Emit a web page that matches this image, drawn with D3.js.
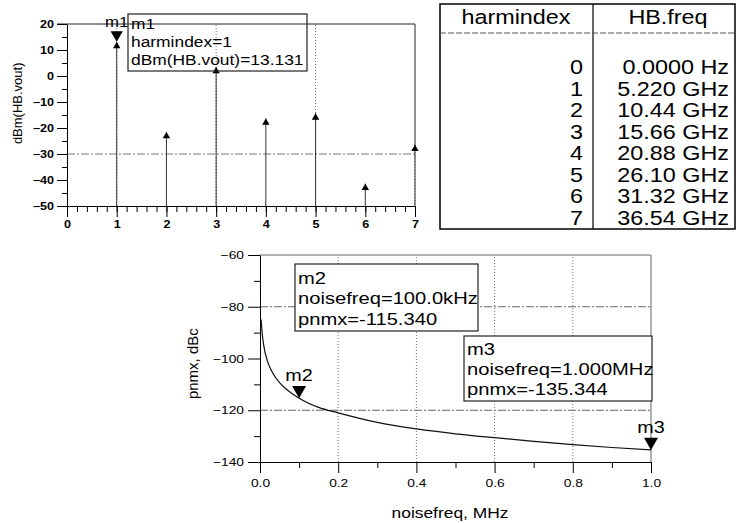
<!DOCTYPE html>
<html lang="en">
<head>
<meta charset="UTF-8">
<title>HB spectrum and phase noise</title>
<script src="https://d3js.org/d3.v7.min.js"></script>
<style>
    body { margin: 0; background: #fff; }
    svg { font-family: Arial, "Liberation Sans", Helvetica, sans-serif; }
    .axis path, .axis line { stroke: #000; }
</style>
</head>
<body>
<svg width="738" height="523"></svg>
<script>
    // harmonic balance spectrum
    const harmIndex = [0, 1, 2, 3, 4, 5, 6, 7];
    const dBmVout = [null, 13.131, -21.5, 3.5, -16.3, -14.3, -41.4, -26.4];
    const hbFreq = ["0.0000 Hz", "5.220 GHz", "10.44 GHz", "15.66 GHz",
                    "20.88 GHz", "26.10 GHz", "31.32 GHz", "36.54 GHz"];

    // phase noise (MHz, dBc)
    const noiseFreq = [0.003, 0.005, 0.01, 0.02, 0.03, 0.05, 0.07, 0.1, 0.15,
                       0.2, 0.3, 0.4, 0.5, 0.6, 0.7, 0.8, 0.9, 1.0];
    const pnmx = [-84.9, -89.3, -95.3, -101.4, -104.9, -109.3, -112.2, -115.34, -118.9,
                  -121.0, -124.7, -127.2, -129.1, -130.6, -132.0, -133.3, -134.4, -135.344];

    const topYTicks = [20, 10, 0, -10, -20, -30, -40, -50];
    const botXTicks = [0, 0.2, 0.4, 0.6, 0.8, 1.0];
    const botYTicks = [-60, -80, -100, -120, -140];

    const SX = 1.2; // the scan is stretched sideways a little
    let svg = d3.select("svg");

    function stext(g, x, y, s, size, anchor) {
        return g.append("text")
            .attr("transform", "translate(" + x + "," + y + ") scale(" + SX + ",1)")
            .attr("text-anchor", anchor || "start")
            .attr("font-size", size)
            .attr("fill", "#000")
            .text(s);
    }

    function downMarker(g, x, tipY, size) {
        let h = Math.sqrt(size / (Math.sqrt(3) * 3));
        g.append("path")
            .attr("d", d3.symbol(d3.symbolTriangle, size)())
            .attr("transform", "translate(" + x + "," + (tipY - 2 * h) + ") rotate(180)")
            .attr("fill", "#000");
    }

    // ---------- top chart ----------
    let x1 = d3.scaleLinear().domain([0, 7]).range([67, 415]);
    let y1 = d3.scaleLinear().domain([-50, 20]).range([206, 24]);
    let g1 = svg.append("g");

    // grid
    g1.selectAll(".vg").data([1, 3, 5]).enter().append("line")
        .attr("x1", d => x1(d)).attr("x2", d => x1(d))
        .attr("y1", y1(-50)).attr("y2", y1(20))
        .attr("stroke", "#666").attr("stroke-dasharray", "1,2");
    g1.append("line")
        .attr("x1", x1(0)).attr("x2", x1(7))
        .attr("y1", y1(-30)).attr("y2", y1(-30))
        .attr("stroke", "#777").attr("stroke-dasharray", "8,2,2,2");
    // frame top / right
    g1.append("line").attr("x1", x1(0) - 10).attr("x2", x1(7))
        .attr("y1", y1(20)).attr("y2", y1(20)).attr("stroke", "#222");
    g1.append("line").attr("x1", x1(7)).attr("x2", x1(7))
        .attr("y1", y1(20)).attr("y2", y1(-27)).attr("stroke", "#222");
    g1.append("line").attr("x1", x1(7)).attr("x2", x1(7))
        .attr("y1", y1(-27)).attr("y2", y1(-50))
        .attr("stroke", "#555").attr("stroke-dasharray", "1,2");

    // minor ticks
    g1.append("g").attr("transform", "translate(0," + y1(-50) + ")")
        .call(d3.axisBottom(x1).tickValues(d3.range(0, 7.01, 0.2)).tickSize(6).tickFormat(""))
        .attr("class", "axis").select(".domain").remove();
    g1.append("g").attr("transform", "translate(" + x1(0) + ",0)")
        .call(d3.axisLeft(y1).tickValues(d3.range(-45, 20, 10)).tickSize(5).tickFormat(""))
        .attr("class", "axis").select(".domain").remove();

    let xa1 = g1.append("g").attr("class", "axis")
        .attr("transform", "translate(0," + y1(-50) + ")")
        .call(d3.axisBottom(x1).tickValues(harmIndex).tickFormat(d3.format("d"))
            .tickSize(11).tickPadding(4).tickSizeOuter(0));
    xa1.selectAll("text").attr("font-size", 10.5).attr("font-weight", "bold")
        .attr("transform", "scale(" + SX + ",1)");
    let ya1 = g1.append("g").attr("class", "axis")
        .attr("transform", "translate(" + x1(0) + ",0)")
        .call(d3.axisLeft(y1).tickValues(topYTicks).tickFormat(d3.format("d"))
            .tickSize(10).tickSizeOuter(0));
    ya1.selectAll("text").attr("font-size", 10.5).attr("font-weight", "bold")
        .attr("x", 0).attr("transform", "translate(-13,0) scale(" + SX + ",1)");

    g1.append("text")
        .attr("transform", "translate(17," + y1(-10.5) + ") rotate(-90)")
        .attr("text-anchor", "middle").attr("dy", "0.35em")
        .attr("font-size", 13).text("dBm(HB.vout)");

    // stems
    let pts = harmIndex.map((h, i) => ({ h: h, v: dBmVout[i] })).filter(d => d.v !== null);
    g1.selectAll(".stem").data(pts).enter().append("line")
        .attr("x1", d => x1(d.h)).attr("x2", d => x1(d.h))
        .attr("y1", y1(-50)).attr("y2", d => y1(d.v))
        .attr("stroke", "#333").attr("stroke-width", 1);
    let th = Math.sqrt(24 / (Math.sqrt(3) * 3));
    g1.selectAll(".tri").data(pts).enter().append("path")
        .attr("d", d3.symbol(d3.symbolTriangle, 24)())
        .attr("transform", d => "translate(" + x1(d.h) + "," + (y1(d.v) + 2 * th) + ")")
        .attr("fill", "#000");

    // marker m1
    downMarker(g1, x1(1), y1(13.131), 65);
    stext(g1, x1(1), 27, "m1", 14, "middle");
    g1.append("rect").attr("x", 128).attr("y", 14).attr("width", 179).attr("height", 57)
        .attr("fill", "none").attr("stroke", "#222").attr("stroke-width", 1.2);
    stext(g1, 131, 29, "m1", 14.5);
    stext(g1, 131, 47, "harmindex=1", 14.5);
    stext(g1, 131, 65, "dBm(HB.vout)=" + dBmVout[1].toFixed(3), 14.5);

    // ---------- table ----------
    let tb = svg.append("g");
    tb.append("rect").attr("x", 440).attr("y", 4).attr("width", 295).attr("height", 225)
        .attr("fill", "none").attr("stroke", "#000").attr("stroke-width", 1.5);
    tb.append("line").attr("x1", 593).attr("x2", 593).attr("y1", 4).attr("y2", 229)
        .attr("stroke", "#000").attr("stroke-width", 1.2);
    tb.append("line").attr("x1", 440).attr("x2", 735).attr("y1", 33).attr("y2", 33)
        .attr("stroke", "#555").attr("stroke-dasharray", "6,2");
    stext(tb, 516, 24, "harmindex", 19.5, "middle");
    stext(tb, 668, 24, "HB.freq", 19.5, "middle");
    let rowY = d3.scaleLinear().domain([0, 7]).range([74, 225]);
    harmIndex.forEach(function (h, i) {
        stext(tb, 583, rowY(i), String(h), 19.5, "end");
        stext(tb, 729, rowY(i), hbFreq[i], 19.5, "end");
    });

    // ---------- bottom chart ----------
    let x2 = d3.scaleLinear().domain([0, 1]).range([260, 651]);
    let y2 = d3.scaleLinear().domain([-140, -60]).range([462, 255]);
    let g2 = svg.append("g");

    g2.selectAll(".vg").data([0.2, 0.4, 0.6, 0.8]).enter().append("line")
        .attr("x1", d => x2(d)).attr("x2", d => x2(d))
        .attr("y1", y2(-140)).attr("y2", y2(-60))
        .attr("stroke", "#777").attr("stroke-dasharray", "1,2");
    g2.selectAll(".hg").data([-80, -120]).enter().append("line")
        .attr("x1", x2(0)).attr("x2", x2(1))
        .attr("y1", d => y2(d)).attr("y2", d => y2(d))
        .attr("stroke", "#666").attr("stroke-dasharray", "8,2,2,2");
    g2.append("line").attr("x1", x2(0)).attr("x2", x2(1))
        .attr("y1", y2(-60)).attr("y2", y2(-60)).attr("stroke", "#999").attr("stroke-width", 1.5);
    g2.append("line").attr("x1", x2(1)).attr("x2", x2(1))
        .attr("y1", y2(-60)).attr("y2", y2(-140)).attr("stroke", "#999").attr("stroke-width", 1.5);

    g2.append("g").attr("class", "axis").attr("transform", "translate(0," + y2(-140) + ")")
        .call(d3.axisBottom(x2).tickValues(d3.range(0.1, 1, 0.2)).tickSize(6).tickFormat(""))
        .select(".domain").remove();
    g2.append("g").attr("class", "axis").attr("transform", "translate(" + x2(0) + ",0)")
        .call(d3.axisLeft(y2).tickValues(d3.range(-130, -60, 20)).tickSize(6).tickFormat(""))
        .select(".domain").remove();

    let xa2 = g2.append("g").attr("class", "axis")
        .attr("transform", "translate(0," + y2(-140) + ")")
        .call(d3.axisBottom(x2).tickValues(botXTicks).tickFormat(d3.format(".1f"))
            .tickSize(11).tickPadding(6).tickSizeOuter(0));
    xa2.selectAll("text").attr("font-size", 11.5).attr("transform", "scale(" + SX + ",1)");
    let ya2 = g2.append("g").attr("class", "axis")
        .attr("transform", "translate(" + x2(0) + ",0)")
        .call(d3.axisLeft(y2).tickValues(botYTicks).tickSize(12).tickSizeOuter(0));
    ya2.selectAll("text").attr("font-size", 11.5)
        .attr("x", 0).attr("transform", "translate(-16,0) scale(" + SX + ",1)");

    g2.append("text")
        .attr("transform", "translate(193," + y2(-102) + ") rotate(-90)")
        .attr("text-anchor", "middle").attr("dy", "0.35em")
        .attr("font-size", 15).text("pnmx, dBc");
    stext(g2, 450, 518, "noisefreq, MHz", 14.5, "middle");

    let line = d3.line().x((d, i) => x2(noiseFreq[i])).y(d => y2(d)).curve(d3.curveMonotoneX);
    g2.append("path").datum(pnmx).attr("d", line)
        .attr("fill", "none").attr("stroke", "#111").attr("stroke-width", 1.2);

    // markers m2, m3
    downMarker(g2, x2(0.1), y2(-115.34), 85);
    stext(g2, x2(0.1), y2(-115.34) - 17, "m2", 16.5, "middle");
    downMarker(g2, x2(1.0), y2(-135.344), 85);
    stext(g2, x2(1.0), y2(-135.344) - 17, "m3", 16.5, "middle");

    g2.append("rect").attr("x", 295).attr("y", 264).attr("width", 183).attr("height", 67)
        .attr("fill", "#fff").attr("stroke", "#222").attr("stroke-width", 1.2);
    stext(g2, 298, 284, "m2", 16.8);
    stext(g2, 298, 304, "noisefreq=100.0kHz", 16.8);
    stext(g2, 298, 325, "pnmx=" + (-115.340).toFixed(3), 16.8);

    g2.append("rect").attr("x", 464).attr("y", 336).attr("width", 188).attr("height", 65)
        .attr("fill", "#fff").attr("stroke", "#222").attr("stroke-width", 1.2);
    stext(g2, 467, 355, "m3", 16.8);
    stext(g2, 467, 375, "noisefreq=1.000MHz", 16.8);
    stext(g2, 467, 395, "pnmx=" + (-135.344).toFixed(3), 16.8);
</script>
</body>
</html>
